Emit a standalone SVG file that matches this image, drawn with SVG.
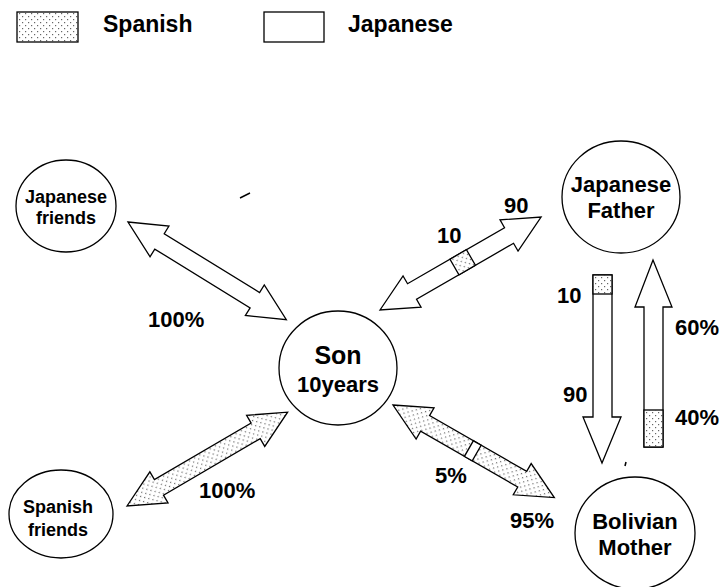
<svg xmlns="http://www.w3.org/2000/svg" xmlns:xlink="http://www.w3.org/1999/xlink" width="721" height="587" viewBox="0 0 721 587">
  <defs>
    <style>
      text { font-family: "Liberation Sans", Arial, Helvetica, sans-serif; font-weight: bold; fill: #000; }
      .node { fill: #fff; stroke: #000; stroke-width: 1.3; }
      .arrow { stroke: #000; stroke-width: 1.3; stroke-linejoin: miter; }
      .plain { fill: #fff; }
      .dots { fill: url(#stipple); }
      .nm { font-size: 18px; text-anchor: middle; }
      .big { font-size: 22px; text-anchor: middle; }
      .lbl { font-size: 22px; }
    </style>
    <!-- sparse dot screen used for the "Spanish" fill -->
    <pattern id="stipple" patternUnits="userSpaceOnUse" width="6" height="6">
      <rect width="6" height="6" fill="#fff"/>
      <rect x="1" y="1" width="1.2" height="1.2" fill="#666"/>
      <rect x="4" y="4" width="1.2" height="1.2" fill="#666"/>
    </pattern>
    <!-- double-headed block arrow, laid along +x from 0 to 186 -->
    <path id="dbl" d="M0,0 L37,-18 L37,-9 L149,-9 L149,-18 L186,0 L149,18 L149,9 L37,9 L37,18 Z"/>
  </defs>

  <!-- legend -->
  <g id="legend">
    <rect x="17" y="12" width="61" height="30" class="arrow dots"/>
    <text x="103" y="32" style="font-size:23px">Spanish</text>
    <rect x="264" y="12" width="60" height="30" class="arrow plain"/>
    <text x="348" y="32" style="font-size:23px">Japanese</text>
  </g>

  <!-- connectors -->
  <g id="connectors">
    <!-- Japanese friends <-> Son -->
    <g transform="translate(128,222) rotate(31.65)">
      <use xlink:href="#dbl" href="#dbl" class="arrow plain"/>
    </g>
    <!-- Son <-> Japanese Father -->
    <g transform="translate(380,310) rotate(-30)">
      <use xlink:href="#dbl" href="#dbl" class="arrow plain"/>
      <rect x="86" y="-9" width="19" height="18" class="arrow dots"/>
    </g>
    <!-- Spanish friends <-> Son -->
    <g transform="translate(127,506) rotate(-30.28)">
      <use xlink:href="#dbl" href="#dbl" class="arrow dots"/>
    </g>
    <!-- Son <-> Bolivian Mother -->
    <g transform="translate(393,405) rotate(29.86)">
      <use xlink:href="#dbl" href="#dbl" class="arrow dots"/>
      <rect x="87.5" y="-9" width="9" height="18" class="arrow plain"/>
    </g>
    <!-- Father -> Mother -->
    <path d="M593,275 H612 V417 H621 L602,463 L583,417 H593 Z" class="arrow plain"/>
    <rect x="593" y="275" width="19" height="19" class="arrow dots"/>
    <!-- Mother -> Father -->
    <path d="M644,447 V307 H635 L653,260 L672,307 H663 V447 Z" class="arrow plain"/>
    <rect x="644" y="410" width="19" height="37" class="arrow dots"/>
  </g>

  <!-- nodes -->
  <g id="japanese-friends">
    <ellipse cx="66" cy="206" rx="50" ry="46" class="node"/>
    <text x="66" y="203" class="nm">Japanese</text>
    <text x="66" y="224" class="nm">friends</text>
  </g>
  <g id="son">
    <ellipse cx="338" cy="368" rx="59" ry="57" class="node"/>
    <text x="338" y="364" class="big" style="font-size:25px">Son</text>
    <text x="338" y="392" class="big">10years</text>
  </g>
  <g id="spanish-friends">
    <ellipse cx="61" cy="514" rx="52" ry="44" class="node"/>
    <text x="58" y="513" class="nm">Spanish</text>
    <text x="58" y="536" class="nm">friends</text>
  </g>
  <g id="japanese-father">
    <ellipse cx="621" cy="197" rx="59" ry="56" class="node"/>
    <text x="621" y="192" class="big">Japanese</text>
    <text x="621" y="218" class="big">Father</text>
  </g>
  <g id="bolivian-mother">
    <ellipse cx="635" cy="533" rx="60" ry="56" class="node"/>
    <text x="635" y="529" class="big">Bolivian</text>
    <text x="635" y="555" class="big">Mother</text>
  </g>

  <!-- percentages -->
  <g id="labels">
    <text x="148" y="327" class="lbl">100%</text>
    <text x="199" y="498" class="lbl">100%</text>
    <text x="437" y="243" class="lbl">10</text>
    <text x="504" y="213" class="lbl">90</text>
    <text x="557" y="303" class="lbl">10</text>
    <text x="675" y="335" class="lbl">60%</text>
    <text x="563" y="402" class="lbl">90</text>
    <text x="675" y="425" class="lbl">40%</text>
    <text x="435" y="483" class="lbl">5%</text>
    <text x="510" y="528" class="lbl">95%</text>
  </g>

  <!-- stray marks -->
  <path d="M240,198 L250,193" stroke="#000" stroke-width="1.5" fill="none"/>
  <path d="M625,466 L626,462" stroke="#000" stroke-width="1.5" fill="none"/>
</svg>
